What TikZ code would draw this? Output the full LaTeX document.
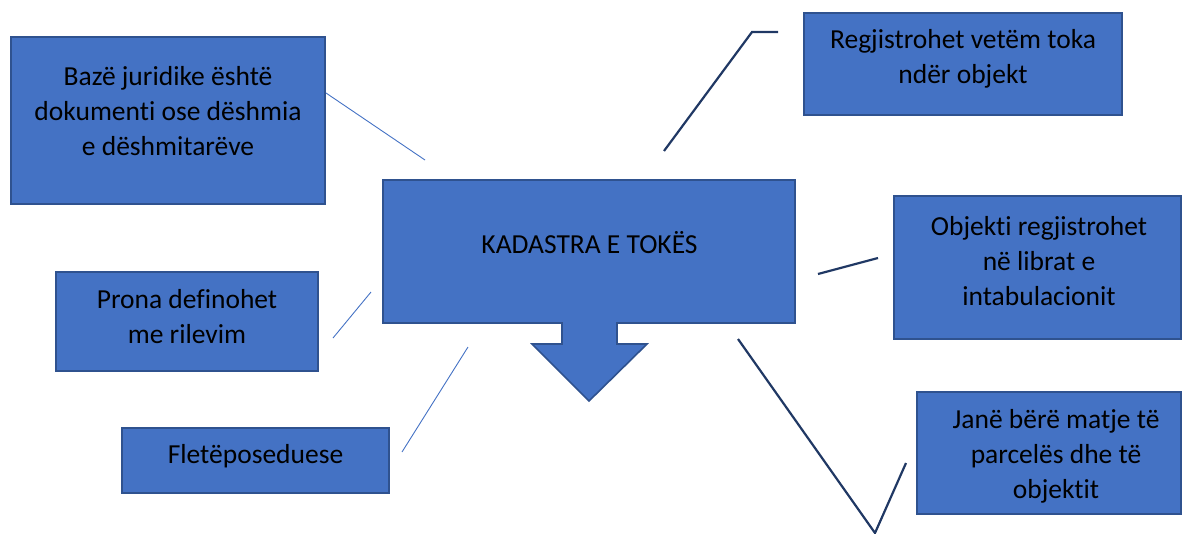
\documentclass[tikz,border=0pt]{standalone}
\usepackage{fontspec}
\setmainfont{Carlito}[Ligatures=NoCommon]
\definecolor{boxfill}{HTML}{4472C4}
\definecolor{boxedge}{HTML}{2F528F}
\definecolor{navy}{HTML}{203864}
\tikzset{
  box/.style={draw=boxedge, fill=boxfill, line width=1.6pt},
  txt/.style={inner sep=0pt, align=center, text=black, font=\fontsize{27.5}{35}\selectfont},
  thinline/.style={draw=boxfill, line width=0.9pt},
  darkline/.style={draw=navy, line width=2.2pt},
}
\begin{document}
\begin{tikzpicture}[x=1pt,y=-1pt]
\useasboundingbox (0,0) rectangle (1183,533);
% boxes
\draw[box] (11,37) rectangle (325,204);
\draw[box] (804,13) rectangle (1122,115);
\draw[box] (894,196) rectangle (1181,339);
\draw[box] (56,272) rectangle (318,371);
\draw[box] (122,428) rectangle (389,493);
\draw[box] (917,392) rectangle (1181,514);
% central callout
\draw[box] (383,180) -- (795,180) -- (795,323) -- (617,323) -- (617,344) -- (647,344)
  -- (589,401) -- (532,344) -- (562,344) -- (562,323) -- (383,323) -- cycle;
% texts
\node[txt] (baze) at (168,113) {\strut Bazë juridike është\\ \strut dokumenti ose dëshmia\\ \strut e dëshmitarëve};
\node[txt] (regj) at (963,59) {\strut Regjistrohet vetëm toka\\ \strut ndër objekt};
\node[txt] (kad) at (589.5,246) {\strut KADASTRA E TOKËS};
\node[txt] (obj) at (1039,263) {\strut Objekti regjistrohet\\ \strut në librat e\\ \strut intabulacionit};
\node[txt] (pron) at (187,318.5) {\strut Prona definohet\\ \strut me rilevim};
\node[txt] (flet) at (255.5,456) {\strut Fletëposeduese};
\node[txt] (jane) at (1056,456) {\strut Janë bërë matje të\\ \strut parcelës dhe të\\ \strut objektit};
% connector end points
\coordinate (a1) at (326,93);   \coordinate (a2) at (425,160);
\coordinate (b1) at (333,338);  \coordinate (b2) at (371,292);
\coordinate (c1) at (402,452);  \coordinate (c2) at (468,347);
\coordinate (d1) at (664,151);  \coordinate (d2) at (752,32);  \coordinate (d3) at (778,32);
\coordinate (e1) at (818,274);  \coordinate (e2) at (878,258);
\coordinate (f1) at (738,339);  \coordinate (f2) at (875,533);  \coordinate (f3) at (906,463);
% connectors
\draw[thinline] (a1) -- (a2);
\draw[thinline] (b1) -- (b2);
\draw[thinline] (c1) -- (c2);
\draw[darkline] (d1) -- (d2) -- (d3);
\draw[darkline] (e1) -- (e2);
\draw[darkline] (f1) -- (f2) -- (f3);
\end{tikzpicture}
\end{document}
